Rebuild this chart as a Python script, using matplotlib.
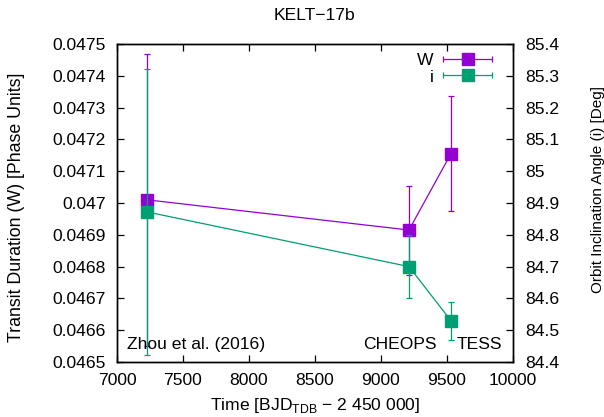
import matplotlib.pyplot as plt
from matplotlib.legend_handler import HandlerErrorbar
import numpy as np

plt.rcParams['font.family'] = ['Liberation Sans', 'DejaVu Sans']
plt.rcParams['font.size'] = 12.6

# epochs (BJD_TDB - 2450000)
time = [7227, 9212, 9530]
sources = ['Zhou et al. (2016)', 'CHEOPS', 'TESS']

# transit duration, phase units
W = [0.04701, 0.046915, 0.047155]
W_err = [0.00046, 0.00014, 0.00018]

# orbital inclination, degrees
inc = [84.872, 84.70, 84.53]
inc_err = [0.45, 0.10, 0.06]

purple = '#9400d3'
green = '#009e73'

fig = plt.figure(figsize=(6.04, 4.17), dpi=100)
ax = fig.add_axes([0.1937, 0.1319, 0.6556, 0.7626])
ax2 = ax.twinx()

ax.errorbar(time, W, yerr=W_err, color=purple, marker='s', ms=9, lw=0.9,
            elinewidth=0.9, capsize=2.5, capthick=0.9)
ax2.errorbar(time, inc, yerr=inc_err, color=green, marker='s', ms=9, lw=0.9,
             elinewidth=0.9, capsize=2.5, capthick=0.9)

ax.set_xlim(7000, 10000)
ax.set_ylim(0.0465, 0.0475)
ax2.set_ylim(84.4, 85.4)
wticks = np.arange(0.0465, 0.04751, 0.0001)
iticks = np.arange(84.4, 85.41, 0.1)
ax.set_xticks(np.arange(7000, 10001, 500))
ax.set_yticks(wticks)
ax.set_yticklabels(['%g' % round(v, 4) for v in wticks])
ax2.set_yticks(iticks)
ax2.set_yticklabels(['%g' % round(v, 1) for v in iticks])

ax.tick_params(axis='x', direction='in', top=True, length=5, width=0.9, pad=8)
ax.tick_params(axis='y', direction='in', length=5, width=0.9, pad=8)
ax2.tick_params(axis='y', direction='in', length=5, width=0.9, pad=9)
for a in (ax, ax2):
    for s in a.spines.values():
        s.set_linewidth(1.0)

ax.set_title('KELT\u221217b', fontsize=12.6, pad=17)
ax.set_xlabel('Time [BJD$_{\\mathregular{TDB}}$ \u2212 2 450 000]', labelpad=6)
ax.set_ylabel('Transit Duration (W) [Phase Units]', fontsize=12.8)
ax.yaxis.set_label_coords(-0.232, 0.487)
ax2.set_ylabel('Orbit Inclination Angle (i) [Deg]', fontsize=11.0)
ax2.yaxis.set_label_coords(1.196, 0.541)

# source labels along the bottom of the plot
ax.text(0.025, 0.03, sources[0], transform=ax.transAxes, ha='left', va='bottom')
ax.text(0.808, 0.03, sources[1], transform=ax.transAxes, ha='right', va='bottom')
ax.text(0.973, 0.03, sources[2], transform=ax.transAxes, ha='right', va='bottom')

# legend proxies with horizontal error bars
hw = ax2.errorbar([np.nan], [np.nan], xerr=[1], color=purple, marker='s', ms=9,
                  ls='none', elinewidth=0.9, capsize=2.5, capthick=0.9)
hi = ax2.errorbar([np.nan], [np.nan], xerr=[1], color=green, marker='s', ms=9,
                  ls='none', elinewidth=0.9, capsize=2.5, capthick=0.9)
ax2.legend([hw, hi], ['W', 'i'], loc='upper right', frameon=False,
           markerfirst=False, handlelength=2.9, handletextpad=0.5,
           labelspacing=0.05, borderaxespad=0.4, bbox_to_anchor=(0.985, 1.015),
           handler_map={type(hw): HandlerErrorbar(xerr_size=1.4)})

fig.savefig('out.png', dpi=100)
